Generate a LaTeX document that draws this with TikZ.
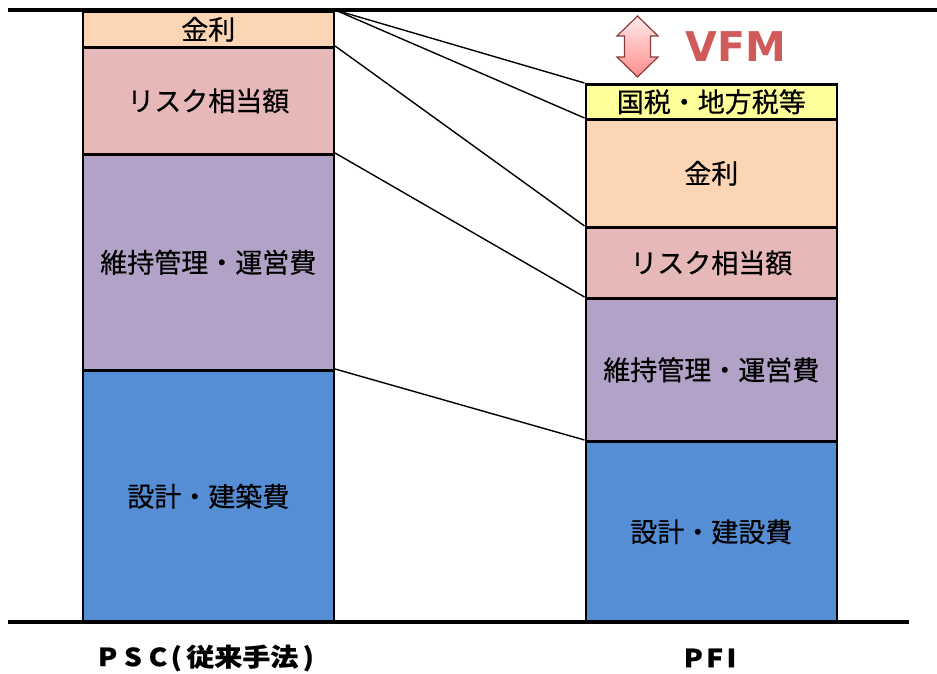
\documentclass[tikz,border=0pt]{standalone}
\usepackage{fontspec}
\setmainfont{Noto Sans CJK JP}[FakeBold=0.5]
\newfontfamily\latinb{DejaVu Sans}
\usetikzlibrary{shadings}
\definecolor{kinri}{HTML}{FCD5B5}
\definecolor{risk}{HTML}{E6B9B8}
\definecolor{iji}{HTML}{B3A2C7}
\definecolor{sekkei}{HTML}{558ED5}
\definecolor{zei}{HTML}{FFFF99}
\definecolor{vfm}{HTML}{D05A5A}
\definecolor{arrowedge}{HTML}{8B3A3A}
\tikzset{
  seg/.style={draw=black, line width=2.6pt, minimum width=251pt, inner sep=0pt, anchor=north west,
    font=\fontsize{27}{31}\selectfont},
  link/.style={draw=black, line width=1.4pt},
  baseline/.style={draw=black, line width=4pt},
  axislabel/.style={font=\fontsize{25}{29}\selectfont\bfseries, inner sep=0pt}
}
\begin{document}
\begin{tikzpicture}[x=1pt,y=-1pt]
\useasboundingbox (0,0) rectangle (937,674);
% left bar (PSC)
\node[seg, fill=sekkei, minimum height=252pt] (L4) at (81.5,369) {設計・建築費};
\node[seg, fill=iji, minimum height=216pt] (L3) at (81.5,153) {維持管理・運営費};
\node[seg, fill=risk, minimum height=107pt] (L2) at (81.5,46) {リスク相当額};
\node[seg, fill=kinri, minimum height=36pt] (L1) at (81.5,10) {金利};
% right bar (PFI)
\node[seg, fill=sekkei, minimum height=181pt] (R4) at (584.5,440) {設計・建設費};
\node[seg, fill=iji, minimum height=143pt] (R3) at (584.5,297) {維持管理・運営費};
\node[seg, fill=risk, minimum height=71pt] (R2) at (584.5,226) {リスク相当額};
\node[seg, fill=kinri, minimum height=108pt] (R1) at (584.5,118) {金利};
\node[seg, fill=zei, minimum height=35pt] (R0) at (584.5,83) {国税・地方税等};
% connectors
\draw[link] (L1.north east) -- (R0.north west);
\draw[link] (L1.north east) -- (R1.north west);
\draw[link] (L2.north east) -- (R2.north west);
\draw[link] (L3.north east) -- (R3.north west);
\draw[link] (L4.north east) -- (R4.north west);
% base lines
\coordinate (TL) at (8,10);
\coordinate (TR) at (937,10);
\coordinate (BL) at (8,622);
\coordinate (BR) at (909,622);
\draw[baseline] (TL) -- (TR);
\draw[baseline] (BL) -- (BR);
% VFM double arrow
\path[top color=red!8, bottom color=red!45!white, draw=arrowedge, line width=1.2pt, line join=miter]
  (637.5,16) -- (658,36) -- (650.5,36) -- (650.5,57) -- (658,57) -- (637.5,77)
  -- (617,57) -- (624.5,57) -- (624.5,36) -- (617,36) -- cycle;
\node[font=\latinb\fontsize{41}{44}\selectfont\bfseries, text=vfm, inner sep=0pt] (vfm) at (736,47) {VFM};
% axis labels
\node[axislabel] (psc) at (206,658) {\scalebox{1.12}[1]{P\hspace{6pt}S\hspace{6pt}C\hspace{3pt}(\hspace{4pt}従来手法\hspace{4pt})}};
\node[axislabel] (pfi) at (710,658) {\scalebox{1.12}[1]{P\hspace{3pt}F\hspace{3pt}I}};
\end{tikzpicture}
\end{document}
